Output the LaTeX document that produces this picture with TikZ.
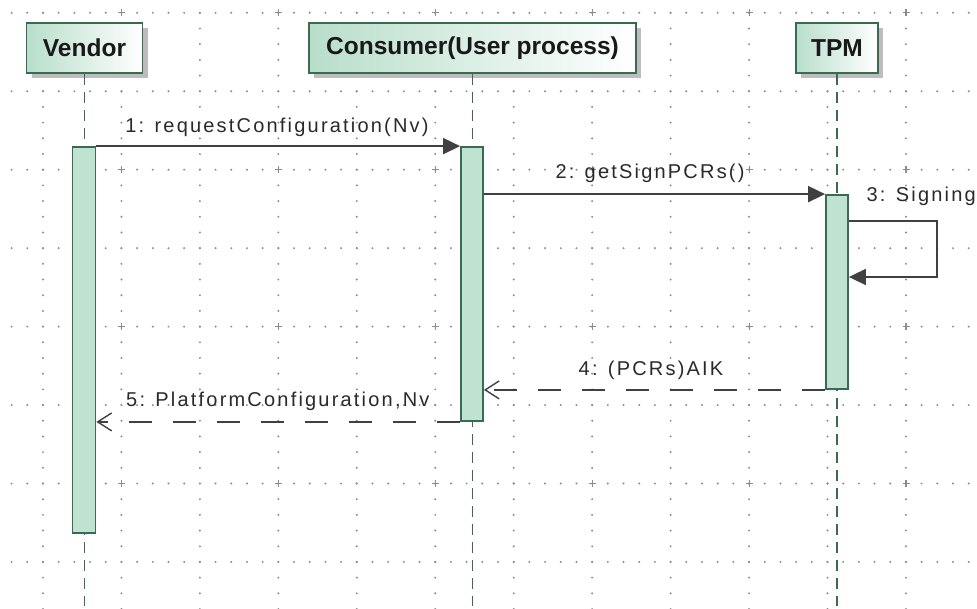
\documentclass[tikz,border=0pt]{standalone}
\usepackage{fontspec}
\setmainfont{Liberation Sans}
\newfontfamily\msgfont[LetterSpace=11]{Liberation Sans}
\usetikzlibrary{arrows.meta,calc}
\definecolor{boxedge}{HTML}{3A6A52}
\definecolor{boxgreen}{HTML}{B8DECB}
\definecolor{barfill}{HTML}{C0E2D1}
\definecolor{lifegreen}{HTML}{3A6A52}
\definecolor{msggray}{HTML}{404040}
\definecolor{msgtext}{HTML}{2A2A2A}
\definecolor{griddot}{HTML}{8C8C8C}
\definecolor{shadowc}{HTML}{BDBDBD}
\tikzset{
  actor/.style={draw=boxedge, line width=1.8pt, left color=boxgreen, right color=white,
    minimum height=50pt, inner sep=0pt, text=black!90,
    font=\bfseries\fontsize{24.5}{26}\selectfont},
  lifeline/.style={draw=lifegreen, line width=1.8pt, dash pattern=on 11pt off 7pt},
  actbar/.style={draw=boxedge, fill=barfill, line width=1.8pt, minimum width=22pt, inner sep=0pt},
  callmsg/.style={draw=msggray, line width=1.8pt, -{Triangle[length=17pt,width=16pt]}},
  retmsg/.style={draw=msggray, line width=1.8pt, dash pattern=on 23pt off 21pt,
    -{Straight Barb[length=14pt,width=18pt,line width=1.4pt]}},
  msglabel/.style={font=\msgfont\fontsize{20}{22}\selectfont, text=msgtext, inner sep=0pt},
}
\begin{document}
\begin{tikzpicture}[x=1pt,y=-1pt]
\useasboundingbox (0,0) rectangle (977,608);
\fill[white] (0,0) rectangle (977,608);
% grid rows
\foreach \r in {0,...,7}{
  \foreach \m in {0,...,62}{
    \fill[griddot] ({11.6+15.69*\m},{12.8+78.45*\r}) circle (1.1pt);
  }
}
% grid columns
\foreach \c in {0,...,11}{
  \foreach \m in {0,...,38}{
    \fill[griddot] ({43+78.45*\c},{12.8+15.69*\m}) circle (1.1pt);
  }
}
% crosses
\foreach \a in {0,...,5}{
  \foreach \b in {0,...,3}{
    \draw[griddot, line width=1.2pt] ({121.5+156.9*\a-3.5},{12.8+156.9*\b}) -- ++(7,0)
      ({121.5+156.9*\a},{12.8+156.9*\b-3.5}) -- ++(0,7);
  }
}
% actor positions
\coordinate (vc) at (84.5,48);
\coordinate (cc) at (472.5,48);
\coordinate (tc) at (837,48);
\coordinate (bottom) at (0,606);
% shadows
\fill[shadowc] ($(vc)+(-58+5,-25+5)$) rectangle ++(116,50);
\fill[shadowc] ($(cc)+(-163.5+5,-25+5)$) rectangle ++(327,50);
\fill[shadowc] ($(tc)+(-41+5,-25+5)$) rectangle ++(82,50);
% actors
\node[actor, minimum width=116pt] (vendor) at (vc) {Vendor};
\node[actor, minimum width=327pt] (consumer) at (cc) {Consumer(User process)};
\node[actor, minimum width=82pt] (tpm) at (tc) {TPM};
% lifelines
\draw[lifeline] (vendor.south) -- (vendor.south |- bottom);
\draw[lifeline] (consumer.south) -- (consumer.south |- bottom);
\draw[lifeline] (tpm.south) -- (tpm.south |- bottom);
% activation bars
\node[actbar, minimum height=386pt, minimum width=23pt] (vbar) at (84,340) {};
\node[actbar, minimum height=274pt] (cbar) at (472,284) {};
\node[actbar, minimum height=194pt] (tbar) at (837,292) {};
% messages
\draw[callmsg] (vbar.north east) -- (cbar.north west);
\draw[callmsg] (cbar.east |- tbar.north) -- (tbar.north west);
\coordinate (s1) at (937,221);
\coordinate (s2) at (937,277);
\draw[callmsg] (tbar.east |- s1) -- (s1) -- (s2) -- (tbar.east |- s2);
\draw[retmsg] (tbar.south west) -- (cbar.east |- tbar.south);
\draw[retmsg] (cbar.south west) -- (vbar.east |- cbar.south);
% labels
\node[msglabel, anchor=base] (l1) at (277,132) {1: requestConfiguration(Nv)};
\node[msglabel, anchor=base] (l2) at (650,178.5) {2: getSignPCRs()};
\node[msglabel, anchor=base east] (l3) at (976,201.5) {3: Signing};
\node[msglabel, anchor=base] (l4) at (651,375) {4: (PCRs)AIK};
\node[msglabel, anchor=base west] (l5) at (126,406) {5: PlatformConfiguration,Nv};
\end{tikzpicture}
\end{document}
